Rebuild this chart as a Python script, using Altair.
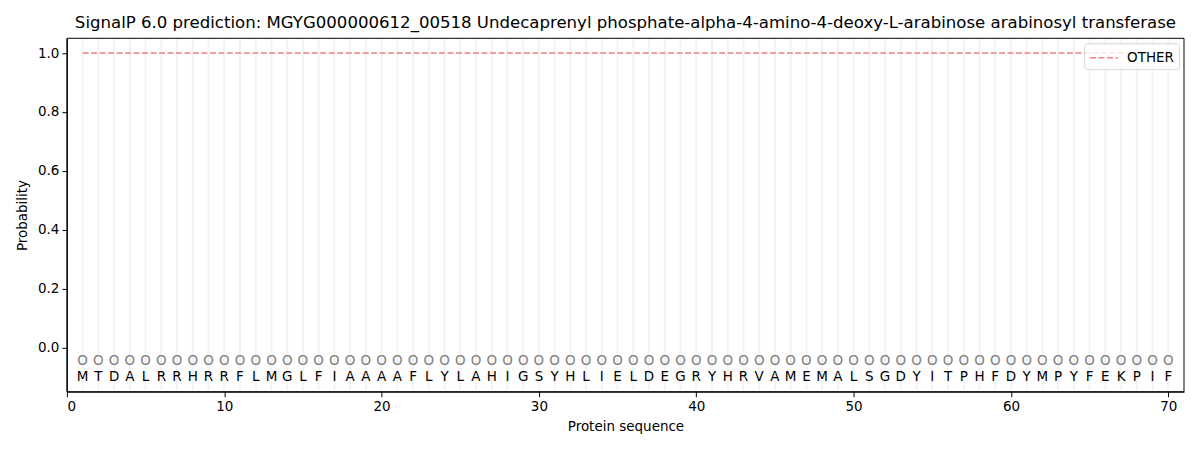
import altair as alt
import pandas as pd

sequence = list("MTDALRRHRRFLMGLFIAAAAFLYLAHIGSYHLIELDEGRYHRVAMEMALSGDYITPHFDYMPYFEKPIF")
positions = list(range(1, len(sequence) + 1))
other_prob = [1.0] * len(sequence)
pred_label = ["O"] * len(sequence)
series_name = "OTHER"
y_domain = [-0.15, 1.05]
x_domain = [0, 71]
x_ticks = [0, 10, 20, 30, 40, 50, 60, 70]
y_ticks = [0.0, 0.2, 0.4, 0.6, 0.8, 1.0]

df = pd.DataFrame({
    "pos": positions,
    "aa": sequence,
    "prob": other_prob,
    "lab": pred_label,
    "series": [series_name] * len(sequence),
    "circle_y": [-0.045] * len(sequence),
    "text_y": [-0.1] * len(sequence),
    "lo": [y_domain[0]] * len(sequence),
    "hi": [y_domain[1]] * len(sequence),
})
frame_df = pd.DataFrame({"x0": [x_domain[0]], "x1": [x_domain[1]],
                         "y0": [y_domain[0]], "y1": [y_domain[1]]})

xscale = alt.Scale(domain=x_domain, nice=False, zero=False)
yscale = alt.Scale(domain=y_domain, nice=False, zero=False)
font = "DejaVu Sans"
fs = 13.5

x_axis = alt.Axis(values=x_ticks, grid=False,
                  title="Protein sequence", labelFontSize=fs, titleFontSize=fs,
                  titleFontWeight="normal", labelFont=font, titleFont=font,
                  tickColor="black", domainColor="black", labelColor="black",
                  titleColor="black", tickSize=5, labelPadding=3, titlePadding=6)
y_axis = alt.Axis(values=y_ticks, format=".1f", grid=False,
                  title="Probability", labelFontSize=fs, titleFontSize=fs,
                  titleFontWeight="normal", labelFont=font, titleFont=font,
                  tickColor="black", domainColor="black", labelColor="black",
                  titleColor="black", tickSize=5, labelPadding=3, titlePadding=8)

base = alt.Chart(df)

grid = base.mark_rule(color="#f3f3f3", strokeWidth=2).encode(
    x=alt.X("pos:Q", scale=xscale, axis=x_axis),
    y=alt.Y("lo:Q", scale=yscale, axis=y_axis),
    y2="hi:Q",
)

line = base.mark_line(strokeDash=[6, 2.5], strokeWidth=1.6).encode(
    x=alt.X("pos:Q", scale=xscale, axis=x_axis),
    y=alt.Y("prob:Q", scale=yscale, axis=y_axis),
    color=alt.Color("series:N", scale=alt.Scale(domain=[series_name], range=["#f08080"]),
                    legend=alt.Legend(title=None, orient="top-right",
                                      symbolType="M-1,0H2.2", symbolSize=300,
                                      symbolDash=[6, 2.5], symbolStrokeWidth=1.6,
                                      labelOffset=19,
                                      labelFontSize=fs, labelFont=font, labelColor="black",
                                      fillColor="rgba(255,255,255,0.8)", strokeColor="#d6d6d6",
                                      cornerRadius=3, padding=5, offset=5)),
)

circles = base.mark_text(fontSize=fs, font=font, color="#808080", baseline="middle").encode(
    x=alt.X("pos:Q", scale=xscale, axis=x_axis),
    y=alt.Y("circle_y:Q", scale=yscale, axis=y_axis),
    text="lab:N",
)

letters = base.mark_text(fontSize=fs, font=font, color="black", baseline="middle").encode(
    x=alt.X("pos:Q", scale=xscale, axis=x_axis),
    y=alt.Y("text_y:Q", scale=yscale, axis=y_axis),
    text="aa:N",
)

frame = alt.Chart(frame_df).mark_rect(fillOpacity=0, stroke="black", strokeWidth=1).encode(
    x=alt.X("x0:Q", scale=xscale, axis=x_axis),
    x2="x1:Q",
    y=alt.Y("y0:Q", scale=yscale, axis=y_axis),
    y2="y1:Q",
)

chart = alt.layer(grid, line, circles, letters, frame).properties(
    width=1119,
    height=354,
    title=alt.Title("SignalP 6.0 prediction: MGYG000000612_00518 Undecaprenyl phosphate-alpha-4-amino-4-deoxy-L-arabinose arabinosyl transferase",
                    fontSize=16.6, font=font, fontWeight="normal", color="black", offset=6),
    padding={"left": 59, "top": 30, "right": 8, "bottom": 46},
    autosize=alt.AutoSizeParams(type="none"),
).configure(background="white").configure_view(stroke=None)

chart.save("out.html", embed_options={"renderer": "svg", "actions": False})
